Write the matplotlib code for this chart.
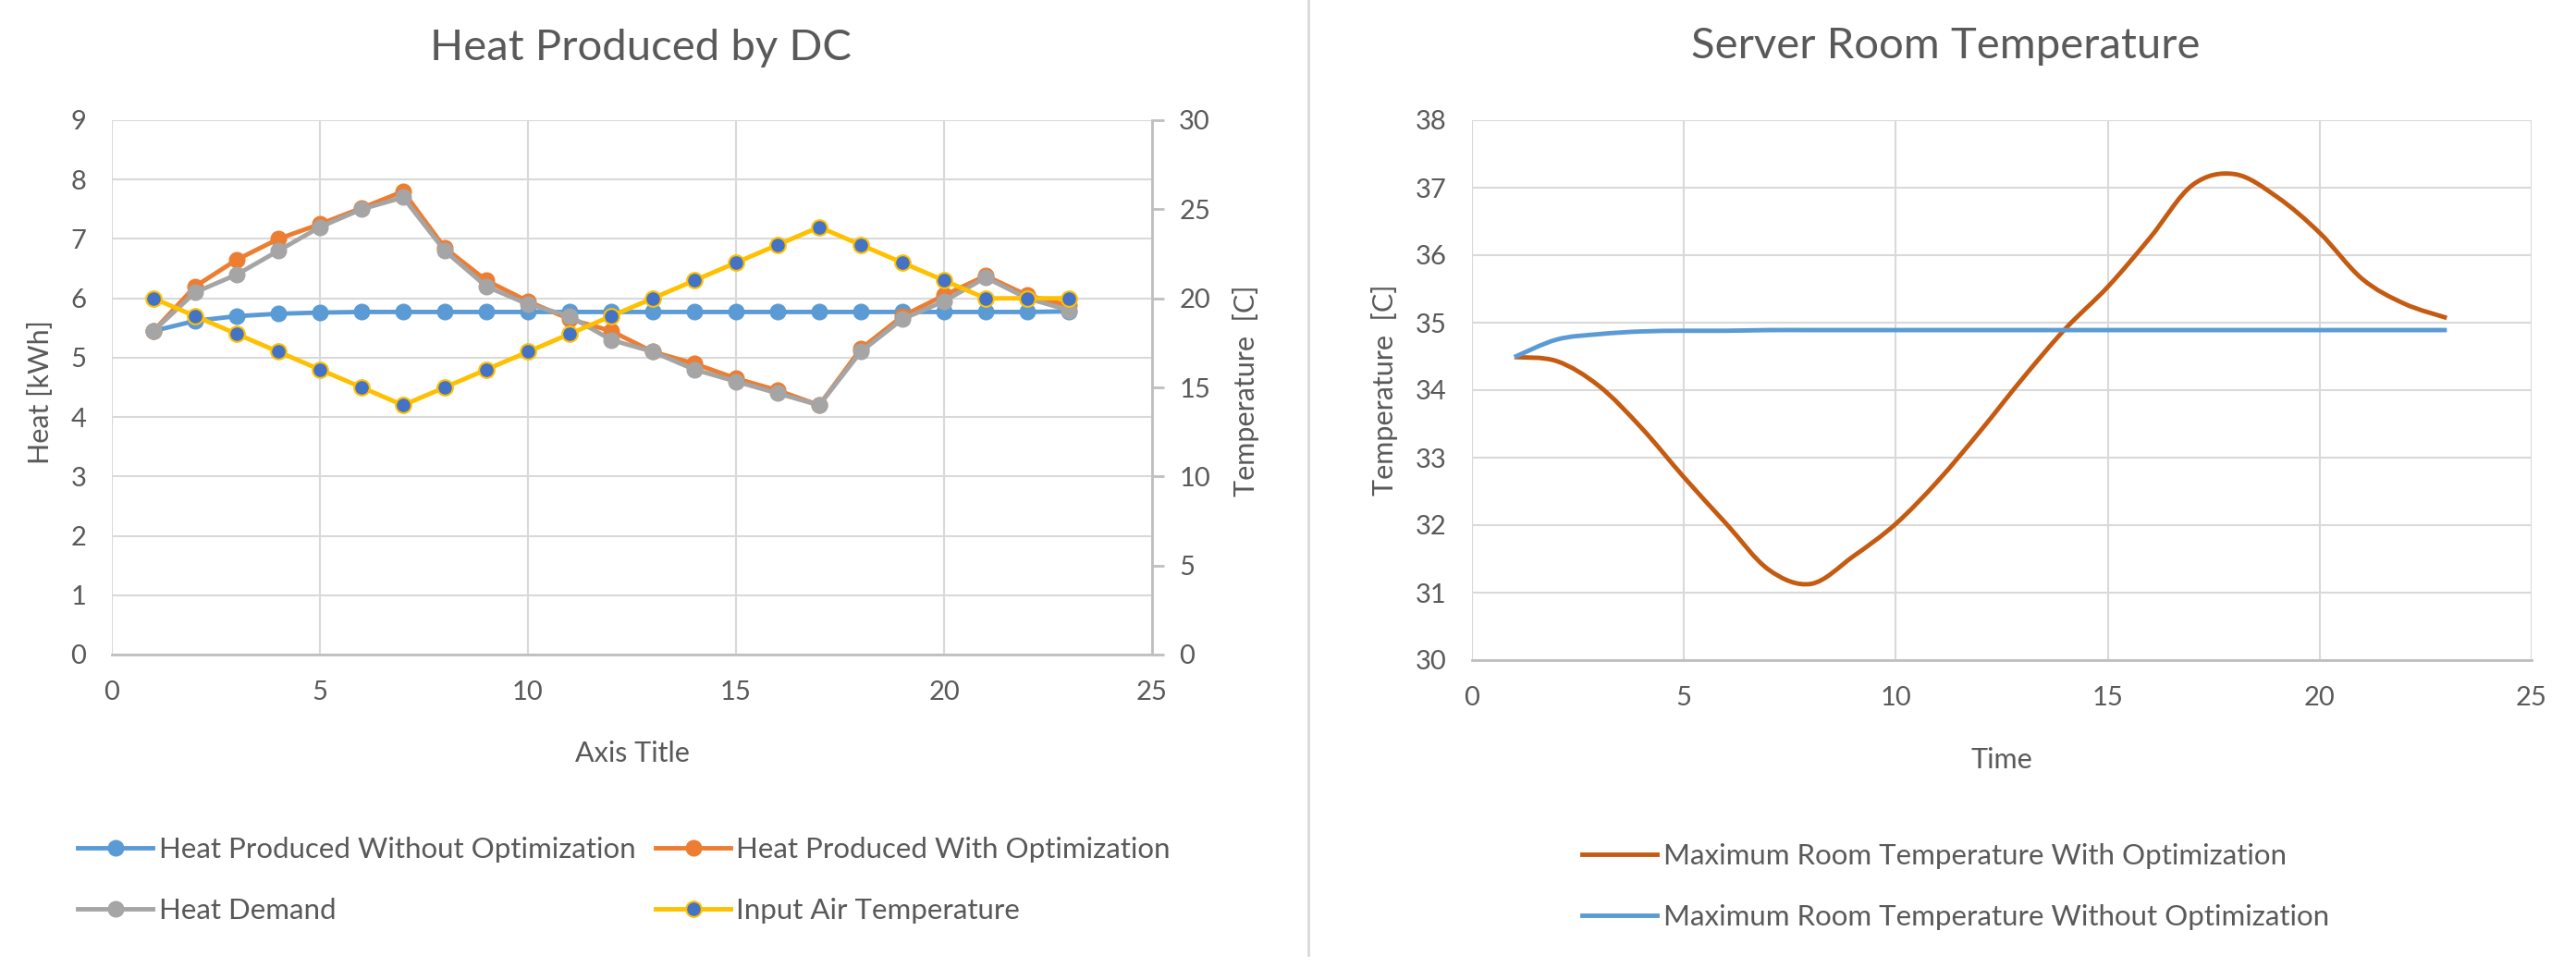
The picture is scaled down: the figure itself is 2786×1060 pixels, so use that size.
import matplotlib.pyplot as plt
from matplotlib.path import Path
from matplotlib.patches import PathPatch
from matplotlib.lines import Line2D

plt.rcParams['font.family'] = ['Lato', 'DejaVu Sans']

# ---- data, left chart (hourly) ----
hours = list(range(1, 24))
heat_no_opt = [5.45, 5.62, 5.70, 5.74, 5.76, 5.77, 5.77, 5.77, 5.77, 5.77, 5.77, 5.77,
               5.77, 5.77, 5.77, 5.77, 5.77, 5.77, 5.77, 5.77, 5.77, 5.77, 5.78]
heat_opt = [5.45, 6.20, 6.65, 7.00, 7.25, 7.52, 7.80, 6.85, 6.30, 5.95, 5.65, 5.45,
            5.10, 4.90, 4.65, 4.45, 4.20, 5.15, 5.70, 6.05, 6.38, 6.05, 5.88]
heat_demand = [5.45, 6.10, 6.40, 6.80, 7.20, 7.50, 7.70, 6.80, 6.20, 5.90, 5.70, 5.30,
               5.10, 4.80, 4.60, 4.40, 4.20, 5.10, 5.65, 5.95, 6.35, 6.00, 5.80]
air_temp = [20, 19, 18, 17, 16, 15, 14, 15, 16, 17, 18, 19,
            20, 21, 22, 23, 24, 23, 22, 21, 20, 20, 20]

# ---- data, right chart (hourly, drawn smoothed) ----
room_opt = [34.49, 34.43, 34.06, 33.44, 32.71, 32.02, 31.34, 31.13, 31.54, 32.02, 32.66, 33.40,
            34.18, 34.91, 35.53, 36.26, 37.04, 37.20, 36.86, 36.33, 35.65, 35.28, 35.07]
room_no_opt = [34.49, 34.75, 34.83, 34.87, 34.88, 34.88, 34.89, 34.89, 34.89, 34.89, 34.89, 34.89,
               34.89, 34.89, 34.89, 34.89, 34.89, 34.89, 34.89, 34.89, 34.89, 34.89, 34.89]

TXT = '#595959'
GRID = '#D9D9D9'
AXLINE = '#BFBFBF'
BLUE = '#5B9BD5'
ORANGE = '#ED7D31'
GRAY = '#A5A5A5'
YELLOW = '#FFC000'
DBLUE = '#4472C4'
RUST = '#C55A11'

W, H = 2786, 1060
fig = plt.figure(figsize=(W / 100, H / 100), dpi=100)


def px_axes(l, t, r, b):
    return fig.add_axes([l / W, 1 - b / H, (r - l) / W, (b - t) / H])


def style(ax, pad_y):
    ax.set_xlim(0, 25)
    ax.set_xticks(range(0, 26, 5))
    ax.grid(True, color=GRID, lw=1.5)
    ax.set_axisbelow(True)
    for s in ['top', 'left', 'right']:
        ax.spines[s].set_visible(False)
    ax.spines['bottom'].set_color(AXLINE)
    ax.spines['bottom'].set_linewidth(2)
    ax.tick_params(length=0, labelsize=21, colors=TXT, pad=pad_y)


def smooth(x, y):
    # catmull-rom style bezier, like excel's smoothed line
    pts = list(zip(x, y))
    verts = [pts[0]]
    codes = [Path.MOVETO]
    n = len(pts)
    for i in range(n - 1):
        p0 = pts[max(i - 1, 0)]
        p1 = pts[i]
        p2 = pts[i + 1]
        p3 = pts[min(i + 2, n - 1)]
        c1 = (p1[0] + (p2[0] - p0[0]) / 6, p1[1] + (p2[1] - p0[1]) / 6)
        c2 = (p2[0] - (p3[0] - p1[0]) / 6, p2[1] - (p3[1] - p1[1]) / 6)
        verts += [c1, c2, p2]
        codes += [Path.CURVE4] * 3
    return Path(verts, codes)


# ---------------- left chart ----------------
ax = px_axes(121, 130, 1246, 708)
style(ax, 20)
ax.set_ylim(0, 9)
ax.set_yticks(range(0, 10))
mk = dict(marker='o', markersize=12, lw=3.5)
l_no, = ax.plot(hours, heat_no_opt, color=BLUE, label='Heat Produced Without Optimization', **mk)
l_opt, = ax.plot(hours, heat_opt, color=ORANGE, label='Heat Produced With Optimization', **mk)
l_dem, = ax.plot(hours, heat_demand, color=GRAY, label='Heat Demand', **mk)

ax2 = ax.twinx()
ax2.set_ylim(0, 30)
ax2.set_yticks(range(0, 31, 5))
for s in ['top', 'left', 'bottom']:
    ax2.spines[s].set_visible(False)
ax2.spines['right'].set_color(AXLINE)
ax2.spines['right'].set_linewidth(2)
ax2.tick_params(axis='y', length=9, width=2, color=AXLINE, direction='out',
                labelsize=21, labelcolor=TXT, pad=12)
l_air, = ax2.plot(hours, air_temp, color=YELLOW, marker='o', markersize=12, lw=3.5,
                  markerfacecolor=DBLUE, markeredgecolor=YELLOW, markeredgewidth=1.5,
                  label='Input Air Temperature')

fig.text(693 / W, 1 - 52 / H, 'Heat Produced by DC', ha='center', va='center',
         fontsize=34, color=TXT)
fig.text(684 / W, 1 - 815 / H, 'Axis Title', ha='center', va='center',
         fontsize=22, color=TXT)
fig.text(44 / W, 1 - 424 / H, 'Heat [kWh]', ha='center', va='center',
         rotation=90, fontsize=22, color=TXT)
fig.text(1347 / W, 1 - 423 / H, 'Temperature  [C]', ha='center', va='center',
         rotation=90, fontsize=22, color=TXT)

# matplotlib fills legend columns first
leg_h = [l_no, l_dem, l_opt, l_air]
fig.legend(leg_h, [h.get_label() for h in leg_h], ncol=2, loc='center',
           bbox_to_anchor=(675 / W, 1 - 952 / H),
           frameon=False, fontsize=22.5, labelcolor=TXT, handlelength=2.6,
           handletextpad=0.2, labelspacing=1.2, columnspacing=0.7)

# separator between the two charts
fig.add_artist(Line2D([1415 / W, 1415 / W], [1, 1 - 1033 / H], color=GRID, lw=2))

# ---------------- right chart ----------------
bx = px_axes(1592, 130, 2738, 714)
style(bx, 20)
bx.set_ylim(30, 38)
bx.set_yticks(range(30, 39))
bx.add_patch(PathPatch(smooth(hours, room_opt), fill=False, edgecolor=RUST, lw=3.5))
bx.add_patch(PathPatch(smooth(hours, room_no_opt), fill=False, edgecolor=BLUE, lw=3.5))

fig.text(2104 / W, 1 - 50 / H, 'Server Room Temperature', ha='center', va='center',
         fontsize=34, color=TXT)
fig.text(2165 / W, 1 - 822 / H, 'Time', ha='center', va='center', fontsize=22, color=TXT)
fig.text(1497 / W, 1 - 422 / H, 'Temperature  [C]', ha='center', va='center',
         rotation=90, fontsize=22, color=TXT)

handles = [Line2D([], [], color=RUST, lw=3.5), Line2D([], [], color=BLUE, lw=3.5)]
labels = ['Maximum Room Temperature With Optimization',
          'Maximum Room Temperature Without Optimization']
fig.legend(handles, labels, loc='center', bbox_to_anchor=(2115 / W, 1 - 959 / H),
           frameon=False, fontsize=22.5, labelcolor=TXT, handlelength=2.6,
           handletextpad=0.2, labelspacing=1.2)

fig.savefig('out.png', dpi=100)
